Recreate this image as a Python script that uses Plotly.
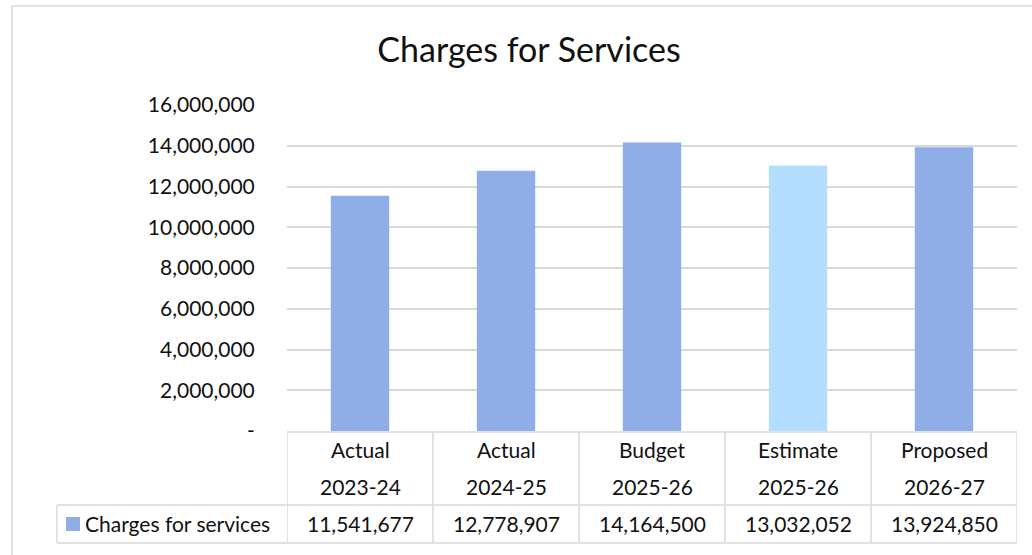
import plotly.graph_objects as go

# Chart data
periods = ["Actual", "Actual", "Budget", "Estimate", "Proposed"]
years = ["2023-24", "2024-25", "2025-26", "2025-26", "2026-27"]
charges = [11541677, 12778907, 14164500, 13032052, 13924850]
bar_colors = ["#8FAEE8", "#8FAEE8", "#8FAEE8", "#B3DEFF", "#8FAEE8"]
series_name = "Charges for services"
y_ticks = [0, 2000000, 4000000, 6000000, 8000000, 10000000, 12000000, 14000000, 16000000]
y_ticktext = ["-", "2,000,000", "4,000,000", "6,000,000", "8,000,000",
              "10,000,000", "12,000,000", "14,000,000", "16,000,000"]

W, H = 1032, 555
PLOT_L, PLOT_R, PLOT_T, PLOT_B = 287, 1017, 105, 431
FONT = "Lato"
GRID = "#d9d9d9"
TXT = "#111111"

cats = list(range(len(charges)))


def py(pix):
    """Pixel row -> paper y."""
    return (PLOT_B - pix) / (PLOT_B - PLOT_T)


def px(pix):
    """Pixel column -> paper x."""
    return (pix - PLOT_L) / (PLOT_R - PLOT_L)


fig = go.Figure(go.Bar(
    x=cats, y=charges, marker=dict(color=bar_colors, line=dict(width=0)),
    width=0.4, name=series_name, showlegend=False, hoverinfo="y",
))

shapes = []
line = dict(color=GRID, width=1.5)
# data table frame
shapes.append(dict(type="line", xref="paper", yref="paper", x0=0, x1=1, y0=py(432), y1=py(432), line=line))
shapes.append(dict(type="line", xref="paper", yref="paper", x0=px(57), x1=1, y0=py(505), y1=py(505), line=line))
shapes.append(dict(type="line", xref="paper", yref="paper", x0=px(57), x1=1, y0=py(543), y1=py(543), line=line))
shapes.append(dict(type="line", xref="paper", yref="paper", x0=px(57), x1=px(57), y0=py(505), y1=py(543), line=line))
for i in range(len(cats) + 1):
    shapes.append(dict(type="line", xref="x", yref="paper", x0=i - 0.5, x1=i - 0.5,
                       y0=py(432), y1=py(543), line=line))
# legend key in the table
shapes.append(dict(type="rect", xref="paper", yref="paper", x0=px(66), x1=px(80),
                   y0=py(531), y1=py(517), fillcolor=bar_colors[0], line=dict(width=0)))
# outer chart border
shapes.append(dict(type="line", xref="paper", yref="paper", x0=px(12), x1=px(W + 5),
                   y0=py(6), y1=py(6), line=line))
shapes.append(dict(type="line", xref="paper", yref="paper", x0=px(12), x1=px(12),
                   y0=py(6), y1=py(H + 5), line=line))

annotations = []
tfont = dict(family=FONT, size=21, color=TXT)
for c, p, yr, v in zip(cats, periods, years, charges):
    annotations.append(dict(x=c, y=py(450), xref="x", yref="paper", text=p, showarrow=False,
                            font=tfont, xanchor="center", yanchor="middle"))
    annotations.append(dict(x=c, y=py(486), xref="x", yref="paper", text=yr, showarrow=False,
                            font=tfont, xanchor="center", yanchor="middle"))
    annotations.append(dict(x=c, y=py(523), xref="x", yref="paper", text=f"{v:,}", showarrow=False,
                            font=tfont, xanchor="center", yanchor="middle"))
annotations.append(dict(x=px(83), y=py(523), xref="paper", yref="paper", text=series_name,
                        showarrow=False, font=tfont, xanchor="left", yanchor="middle"))

fig.update_layout(
    width=W, height=H,
    margin=dict(l=PLOT_L, r=W - PLOT_R, t=PLOT_T, b=H - PLOT_B, pad=0),
    paper_bgcolor="white", plot_bgcolor="white",
    title=dict(text="Charges for Services", x=529 / W, xanchor="center",
               y=1 - 50 / H, yanchor="middle", font=dict(family=FONT, size=34, color=TXT)),
    xaxis=dict(range=[-0.5, len(cats) - 0.5], showticklabels=False, showgrid=False,
               zeroline=False, showline=False, fixedrange=True),
    yaxis=dict(range=[0, 16000000], tickvals=y_ticks, ticktext=y_ticktext,
               showgrid=True, gridcolor=GRID, gridwidth=1.5, zeroline=False, showline=False,
               ticks="outside", ticklen=27, tickcolor="rgba(0,0,0,0)",
               tickfont=dict(family=FONT, size=21, color=TXT), fixedrange=True),
    shapes=shapes, annotations=annotations, bargap=0.6,
    font=dict(family=FONT),
)

fig.write_html("out.html")
